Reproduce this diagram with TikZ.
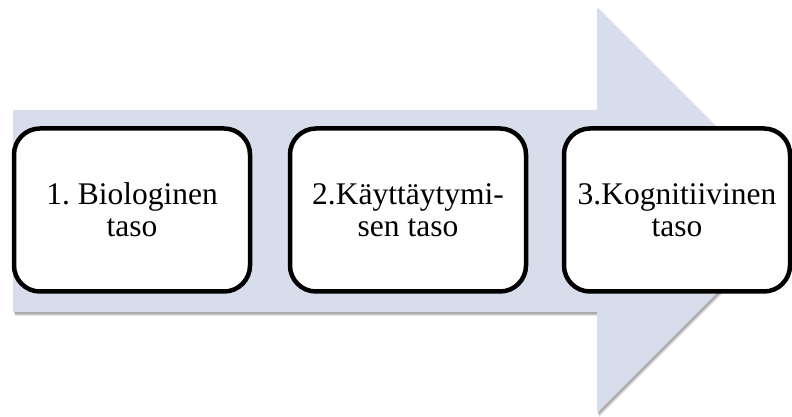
\documentclass[tikz,border=0pt]{standalone}
\usepackage{fontspec}
\setmainfont{Liberation Serif}
\frenchspacing
\definecolor{arrowfill}{RGB}{216,221,236}
\tikzset{
  stage/.style={draw=black, line width=4.5pt, rounded corners=26pt, fill=white,
    minimum width=236pt, minimum height=163pt, align=center, inner sep=0pt,
    font=\fontsize{31.5pt}{32pt}\selectfont},
}
\begin{document}
\begin{tikzpicture}[x=1pt,y=1pt]
\useasboundingbox (0,0) rectangle (792,417);
\begin{scope}
\clip (0,0) rectangle (792,417);
% soft shadow
\foreach \o/\a in {4/0.10,3/0.12,2/0.15}{
  \fill[black,opacity=\a,shift={(\o*0.5,-\o)}]
    (13,307) -- (597,307) -- (597,410) -- (800,207) -- (597,4) -- (597,105) -- (13,105) -- cycle;
}
\fill[arrowfill] (13,307) -- (597,307) -- (597,410) -- (800,207) -- (597,4) -- (597,105) -- (13,105) -- cycle;
\node[stage] (b1) at (132,207) {1. Biologinen\\taso};
\node[stage] (b2) at (408,207) {2.Käyttäytymi-\\sen taso};
\node[stage, minimum width=226pt] (b3) at (677,207) {3.Kognitiivinen\\taso};
\end{scope}
\end{tikzpicture}
\end{document}
